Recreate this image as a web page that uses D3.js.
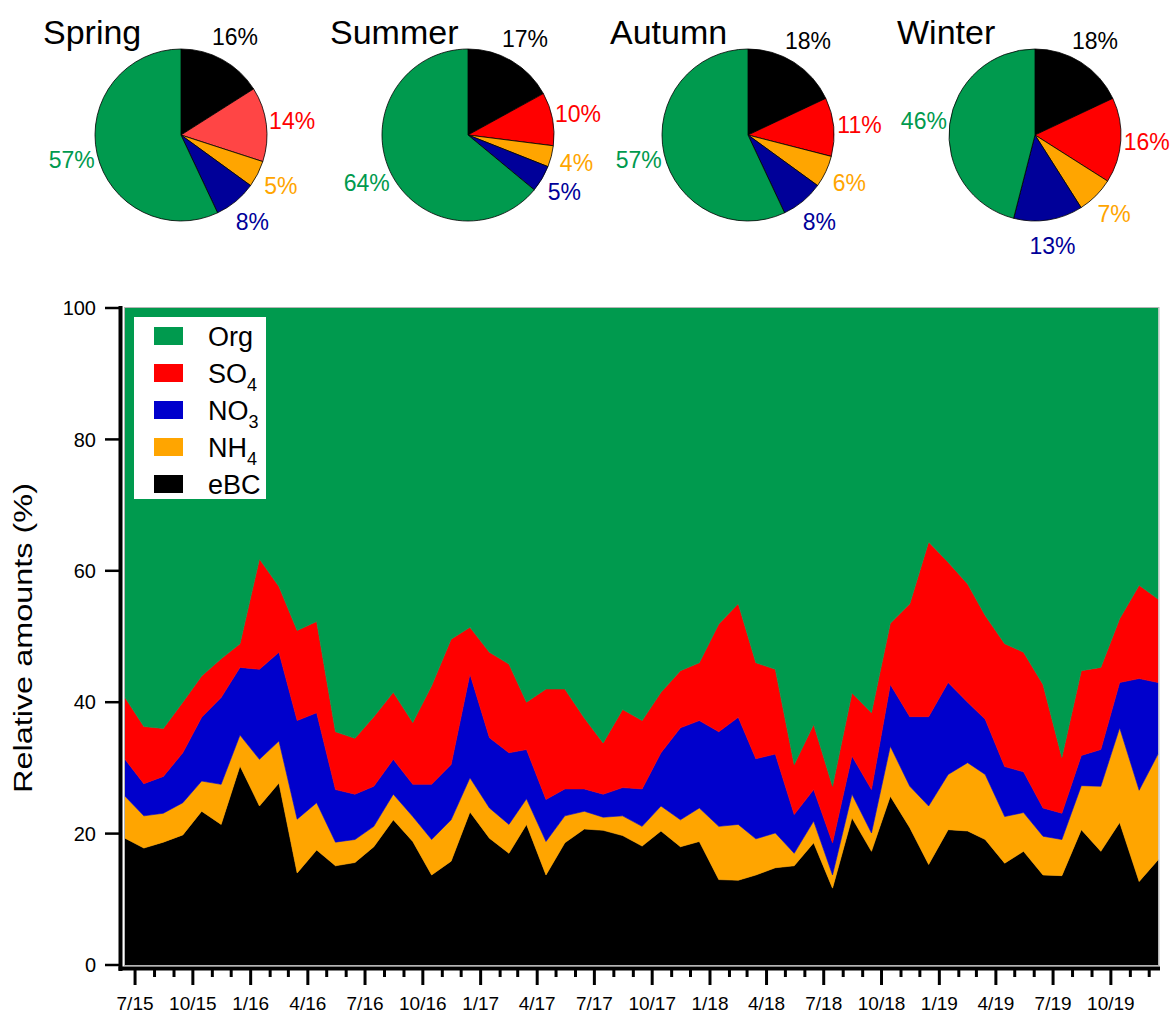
<!DOCTYPE html>
<html>
<head>
<meta charset="utf-8">
<script src="https://cdn.jsdelivr.net/npm/d3@7"></script>
<style>
  html, body { margin: 0; padding: 0; background: #fff; }
  svg { display: block; font-family: "Liberation Sans", Arial, sans-serif; }
</style>
</head>
<body>
<svg id="chart" width="1175" height="1020"></svg>
<script>
// ---- Monthly relative composition (%), Jun 2015 – Dec 2019 ----
const months = [
  "2015-06","2015-07","2015-08","2015-09","2015-10","2015-11","2015-12",
  "2016-01","2016-02","2016-03","2016-04","2016-05","2016-06","2016-07","2016-08","2016-09","2016-10","2016-11","2016-12",
  "2017-01","2017-02","2017-03","2017-04","2017-05","2017-06","2017-07","2017-08","2017-09","2017-10","2017-11","2017-12",
  "2018-01","2018-02","2018-03","2018-04","2018-05","2018-06","2018-07","2018-08","2018-09","2018-10","2018-11","2018-12",
  "2019-01","2019-02","2019-03","2019-04","2019-05","2019-06","2019-07","2019-08","2019-09","2019-10","2019-11","2019-12"
];
const eBC = [19.3,17.8,18.7,19.8,23.4,21.4,30.3,24.2,27.7,14.0,17.5,15.1,15.6,18.0,22.1,18.8,13.7,15.8,23.3,
  19.3,17.0,21.4,13.7,18.6,20.7,20.5,19.7,18.1,20.4,18.0,18.8,13.0,12.9,13.7,14.8,15.1,18.6,11.7,22.4,17.3,
  25.7,20.9,15.3,20.6,20.4,19.1,15.5,17.3,13.7,13.6,20.6,17.3,21.7,12.7,16.0];
const NH4 = [6.4,4.9,4.4,4.9,4.6,6.1,4.7,7.1,6.4,8.2,7.2,3.6,3.5,3.1,3.9,3.8,5.4,6.3,5.2,
  4.6,4.4,3.9,5.1,4.1,2.7,2.0,3.0,3.0,3.8,4.1,5.1,8.1,8.5,5.5,5.3,1.9,3.3,2.0,3.6,2.8,
  7.6,6.3,8.9,8.4,10.4,9.9,7.1,5.9,5.9,5.5,6.7,9.9,14.4,13.9,16.1];
const NO3 = [5.6,4.9,5.6,7.6,9.7,13.2,10.3,13.7,13.5,15.0,13.7,8.0,6.9,6.1,5.3,4.9,8.4,8.4,15.8,
  10.7,10.9,7.5,6.4,4.1,3.4,3.5,4.3,5.7,8.1,14.0,13.3,14.4,16.3,12.2,12.0,5.9,4.8,4.9,5.8,6.6,
  9.4,10.6,13.6,14.0,9.2,8.4,7.6,6.2,4.3,4.0,4.6,5.6,6.9,17.0,10.9];
const SO4 = [9.4,8.7,7.3,7.7,6.3,5.9,3.6,16.8,10.0,13.7,13.9,8.8,8.5,10.6,10.2,9.4,15.0,19.1,7.1,
  13.0,13.5,7.2,16.8,15.2,10.8,7.8,11.9,10.4,9.2,8.7,8.8,16.4,17.3,14.6,12.9,7.6,9.9,8.6,9.6,11.7,
  9.3,17.2,26.6,18.3,18.0,15.8,18.7,18.2,18.8,8.5,12.9,12.5,9.7,14.2,12.7];
const Org = [59.3,63.7,64.0,60.0,56.0,53.4,51.1,38.2,42.4,49.1,47.7,64.5,65.5,62.2,58.5,63.1,57.5,50.4,48.6,
  52.4,54.2,60.0,58.0,58.0,62.4,66.2,61.1,62.8,58.5,55.2,54.0,48.1,45.0,54.0,55.0,69.5,63.4,72.8,58.6,61.6,
  48.0,45.0,35.6,38.7,42.0,46.8,51.1,52.4,57.3,68.4,55.2,54.7,47.3,42.2,44.3];

// Quarterly tick labels on the time axis
const tickLabels = ["7/15","10/15","1/16","4/16","7/16","10/16","1/17","4/17","7/17","10/17",
  "1/18","4/18","7/18","10/18","1/19","4/19","7/19","10/19"];
const yTicks = [0, 20, 40, 60, 80, 100];

// ---- Seasonal averages (%), slices clockwise from 12 o'clock ----
const seasons = ["Spring", "Summer", "Autumn", "Winter"];
const pieKeys = ["eBC", "SO4", "NH4", "NO3", "Org"];
const springPct = [16, 14, 5, 8, 57];
const summerPct = [17, 10, 4, 5, 64];
const autumnPct = [18, 11, 6, 8, 57];
const winterPct = [18, 16, 7, 13, 46];

// ---- Styling ----
const areaColor = { Org: "#009a4e", SO4: "#ff0000", NO3: "#0000cc", NH4: "#ffa500", eBC: "#000000" };
const pieColor  = { Org: "#009a4e", SO4: "#ff0000", NO3: "#000099", NH4: "#ffa500", eBC: "#000000" };
const labelColor = { Org: "#009a4e", SO4: "#ff0000", NO3: "#000099", NH4: "#ffa500", eBC: "#000000" };

const svg = d3.select("#chart");

// ================= Stacked area =================
const plot = { left: 125, right: 1158, top: 308, bottom: 965 };
const parse = d3.timeParse("%Y-%m");
const sampleDate = m => { const d = parse(m); d.setDate(15); return d; };

const rows = months.map((m, i) => ({
  date: sampleDate(m), eBC: eBC[i], NH4: NH4[i], NO3: NO3[i], SO4: SO4[i], Org: Org[i]
}));

const x = d3.scaleTime()
  .domain([rows[0].date, rows[rows.length - 1].date])
  .range([plot.left, plot.right]);
const y = d3.scaleLinear().domain([0, 100]).range([plot.bottom, plot.top]);

const stackKeys = ["eBC", "NH4", "NO3", "SO4", "Org"];
const series = d3.stack().keys(stackKeys)(rows);

const area = d3.area()
  .x(d => x(d.data.date))
  .y0(d => y(d[0]))
  .y1(d => y(d[1]));

svg.append("g").selectAll("path")
  .data(series)
  .join("path")
  .attr("d", area)
  .attr("fill", d => areaColor[d.key])
  .attr("stroke", d => areaColor[d.key])
  .attr("stroke-width", 0.6);

// thin frame around the plot area
svg.append("rect")
  .attr("x", plot.left - 0.5).attr("y", plot.top - 0.5)
  .attr("width", plot.right - plot.left + 1.5).attr("height", plot.bottom - plot.top + 1)
  .attr("fill", "none").attr("stroke", "#b5b5b5").attr("stroke-width", 1);

// Legend
const legendItems = [
  { key: "Org", base: "Org", sub: "" },
  { key: "SO4", base: "SO", sub: "4" },
  { key: "NO3", base: "NO", sub: "3" },
  { key: "NH4", base: "NH", sub: "4" },
  { key: "eBC", base: "eBC", sub: "" }
];
const lg = svg.append("g");
lg.append("rect").attr("x", 134).attr("y", 317).attr("width", 132).attr("height", 182).attr("fill", "#fff");
const li = lg.selectAll("g.item").data(legendItems).join("g")
  .attr("transform", (d, i) => `translate(0,${336 + i * 37})`);
li.append("rect").attr("x", 154).attr("y", -9).attr("width", 29).attr("height", 18)
  .attr("fill", d => areaColor[d.key]);
const lt = li.append("text").attr("x", 208).attr("y", 0).attr("dy", "0.36em")
  .attr("font-size", 27).attr("fill", "#000");
lt.append("tspan").text(d => d.base);
lt.filter(d => d.sub).append("tspan").attr("font-size", 18).attr("dy", 8).text(d => d.sub);

// Axes
const axisG = svg.append("g");
axisG.append("line").attr("x1", 120.5).attr("x2", 120.5).attr("y1", plot.top - 2).attr("y2", 971)
  .attr("stroke", "#000").attr("stroke-width", 4);
axisG.append("line").attr("x1", 118.5).attr("x2", plot.right + 2).attr("y1", 968.5).attr("y2", 968.5)
  .attr("stroke", "#000").attr("stroke-width", 4);

// y ticks + labels
axisG.selectAll("line.yt").data(yTicks).join("line")
  .attr("x1", 105).attr("x2", 120).attr("y1", d => y(d)).attr("y2", d => y(d))
  .attr("stroke", "#000").attr("stroke-width", 2.5);
axisG.selectAll("text.yl").data(yTicks).join("text")
  .attr("x", 96).attr("y", d => y(d)).attr("dy", "0.36em")
  .attr("text-anchor", "end").attr("font-size", 20).text(d => d);

// y title
svg.append("text")
  .attr("transform", "translate(32,638) rotate(-90)")
  .attr("text-anchor", "middle").attr("font-size", 26)
  .attr("textLength", 310).attr("lengthAdjust", "spacingAndGlyphs")
  .text("Relative amounts (%)");

// x ticks: every month, longer at quarters
const monthTicks = d3.timeMonth.range(new Date(2015, 6, 1), new Date(2020, 0, 1));
axisG.selectAll("line.xt").data(monthTicks).join("line")
  .attr("x1", d => x(d)).attr("x2", d => x(d))
  .attr("y1", 970).attr("y2", d => (d.getMonth() % 3 === 0 ? 985 : 977))
  .attr("stroke", "#000").attr("stroke-width", 3);

const quarterTicks = monthTicks.filter(d => d.getMonth() % 3 === 0);
axisG.selectAll("text.xl").data(quarterTicks).join("text")
  .attr("x", d => x(d)).attr("y", 1010)
  .attr("text-anchor", "middle").attr("font-size", 19)
  .text((d, i) => tickLabels[i]);

// ================= Seasonal pies =================
const pieData = [springPct, summerPct, autumnPct, winterPct];
const pieCx = [181, 468, 748, 1035];
const pieCy = 135;
const R = 86;
const pie = d3.pie().sort(null).value(d => d.v);
const arc = d3.arc().innerRadius(0).outerRadius(R);
const labelArc = d3.arc().innerRadius(112).outerRadius(112);

seasons.forEach((name, s) => {
  const g = svg.append("g").attr("transform", `translate(${pieCx[s]},${pieCy})`);
  const arcs = pie(pieKeys.map((k, j) => ({ k, v: pieData[s][j] })));
  g.selectAll("path").data(arcs).join("path")
    .attr("d", arc)
    .attr("fill", d => (name === "Spring" && d.data.k === "SO4") ? "#ff4545" : pieColor[d.data.k])
    .attr("stroke", "#000").attr("stroke-width", 0.8);
  g.selectAll("text").data(arcs).join("text")
    .attr("transform", d => `translate(${labelArc.centroid(d)})`)
    .attr("text-anchor", "middle").attr("dy", "0.36em")
    .attr("font-size", 23)
    .attr("fill", d => labelColor[d.data.k])
    .text(d => d.data.v + "%");
  svg.append("text")
    .attr("x", pieCx[s] - 138).attr("y", 44)
    .attr("font-size", 34).attr("fill", "#000")
    .text(name);
});
</script>
</body>
</html>
